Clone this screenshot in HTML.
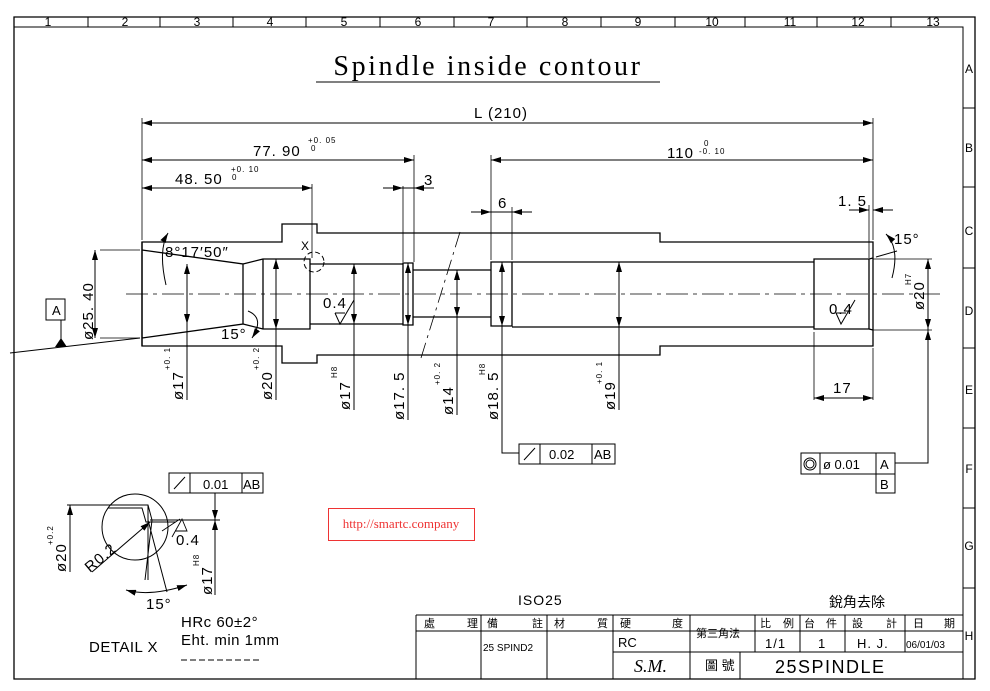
<!DOCTYPE html>
<html><head><meta charset="utf-8"><style>
html,body{margin:0;padding:0;background:#fff}
svg{display:block}
text{font-family:"Liberation Sans","Noto Sans CJK TC",sans-serif;fill:#000}
</style></head><body>
<svg width="990" height="691" viewBox="0 0 990 691" xmlns="http://www.w3.org/2000/svg">
<defs>
<marker id="a" viewBox="0 0 10 6" refX="10" refY="3" markerWidth="10" markerHeight="6" orient="auto-start-reverse" markerUnits="userSpaceOnUse"><path d="M0,0 L10,3 L0,6z" fill="#000"/></marker>
</defs>
<g fill="none" stroke="#000" stroke-width="1">
<path d="M14,17 H975 V679 H14 Z" stroke-width="1.3"/>
<path d="M14,27 H963 V679"/>
<path d="M88,17V27M160,17V27M233,17V27M306,17V27M380,17V27M454,17V27M527,17V27M601,17V27M675,17V27M745,17V27M817,17V27M891,17V27"/>
<path d="M963,108H975M963,187H975M963,268H975M963,348H975M963,428H975M963,508H975M963,588H975"/>
<path d="M316,82H660"/>
<path d="M142,242H282V224H317V233H660V242H873V346H660V355H317V363H282V346H142Z" stroke-width="1.3"/>
<path d="M142,242V346M142,250L243,264V324L142,338M243,264L263,259M243,324L263,329M263,259H310V329H263ZM263,259V329M310,264H403V324H310M403,263H413V325H403ZM413,270H491M413,317H491M491,262H512V326H491ZM512,262H814M512,327H814M814,259H869V329H814ZM869,259L873,258M869,329L873,330M869,259V329" stroke-width="1.3"/>
<path d="M126,294H940" stroke-dasharray="22,5,4,5" stroke-width="0.8"/>
<path d="M460,232L421,358" stroke-dasharray="16,5,3,5" stroke-width="0.8"/>
<path d="M142,118V240M312,184V258M403,186V262M414,155V262M491,155V260M512,207V260M869,205V258M873,118V240M814,332V400M873,348V400M873,330H932M873,259H932" stroke-width="0.8"/>
<path d="M142,123H873" marker-start="url(#a)" marker-end="url(#a)"/>
<path d="M142,160H414" marker-start="url(#a)" marker-end="url(#a)"/>
<path d="M491,160H873" marker-start="url(#a)" marker-end="url(#a)"/>
<path d="M142,188H312" marker-start="url(#a)" marker-end="url(#a)"/>
<path d="M383,188H403" marker-end="url(#a)"/><path d="M434,188H414" marker-end="url(#a)"/><path d="M403,188H414"/>
<path d="M471,212H491" marker-end="url(#a)"/><path d="M532,212H512" marker-end="url(#a)"/><path d="M491,212H532"/>
<path d="M849,210H869" marker-end="url(#a)"/><path d="M893,210H873" marker-end="url(#a)"/>
<path d="M814,398H873" marker-start="url(#a)" marker-end="url(#a)"/>
<path d="M100,250H140M100,338H140" stroke-width="0.8"/>
<path d="M95,250V338" marker-start="url(#a)" marker-end="url(#a)"/>
<path d="M187,264V324" marker-start="url(#a)" marker-end="url(#a)"/><path d="M187,324V400"/>
<path d="M276,259V329" marker-start="url(#a)" marker-end="url(#a)"/><path d="M276,329V400"/>
<path d="M354,264V324" marker-start="url(#a)" marker-end="url(#a)"/><path d="M354,324V410"/>
<path d="M408,263V325" marker-start="url(#a)" marker-end="url(#a)"/><path d="M408,325V420"/>
<path d="M457,270V317" marker-start="url(#a)" marker-end="url(#a)"/><path d="M457,317V415"/>
<path d="M502,262V326" marker-start="url(#a)" marker-end="url(#a)"/><path d="M502,326V453H519"/>
<path d="M619,262V327" marker-start="url(#a)" marker-end="url(#a)"/><path d="M619,327V410"/>
<path d="M928,259V329" marker-start="url(#a)" marker-end="url(#a)"/><path d="M928,329V463H895"/>
<path d="M928,340V330" marker-end="url(#a)"/>
<path d="M168,233Q158,250 166,285" marker-start="url(#a)"/>
<path d="M248,311Q265,318 252,338" marker-end="url(#a)"/>
<path d="M886,234Q900,248 892,278" marker-start="url(#a)"/>
<path d="M876,257L897,251"/>
<circle cx="314" cy="262" r="10" stroke-dasharray="5,3"/>
<rect x="46" y="299" width="19" height="21"/>
<path d="M61,320V342M10,353L140,338"/>
<path d="M335,313L340,324L354,300M335,313H345"/>
<path d="M836,313L841,324L855,300M836,313H846"/>
<path d="M519,444H615V464H519ZM540,444V464M592,444V464M524,460L535,448"/>
<path d="M801,453H895V474H801ZM820,453V474M876,453V493H895V474"/>
<circle cx="810" cy="464" r="6"/><circle cx="810" cy="464" r="4"/>
<circle cx="135" cy="527" r="33"/>
<path d="M67,505H148L152,520L145,580M148,505V580M148,520L167,592M108,508H142L146,522H176M150,520H220" />
<path d="M92,572L150,522" marker-end="url(#a)"/>
<path d="M70,505V572" marker-start="url(#a)"/>
<path d="M215,493V520" marker-end="url(#a)"/>
<path d="M215,540V520" marker-end="url(#a)"/><path d="M215,540V595"/>
<path d="M126,590Q150,597 187,585" marker-start="url(#a)" marker-end="url(#a)"/>
<path d="M172,537L182,519L187,531H175M162,531L180,519" stroke-width="0.9"/>
<path d="M169,473H263V493H169ZM190,473V493M242,473V493M174,489L185,477"/>
<path d="M181,660H262" stroke-dasharray="6,3"/>
<rect x="328.5" y="508.5" width="146" height="32" stroke="#e33"/>
<path d="M416,615H963M416,631H963M613,652H963M416,615V679M481,615V679M547,615V679M613,615V679M690,615V679M755,615V652M740,652V679M800,615V652M845,615V652M905,615V652M755,631H963" stroke-width="1"/>
</g>
<path d="M55,347L61,338L67,347Z" fill="#000"/>
<g font-size="12" text-anchor="middle">
<text x="48" y="26">1</text><text x="125" y="26">2</text><text x="197" y="26">3</text><text x="270" y="26">4</text><text x="344" y="26">5</text><text x="418" y="26">6</text><text x="491" y="26">7</text><text x="565" y="26">8</text><text x="638" y="26">9</text><text x="712" y="26">10</text><text x="790" y="26">11</text><text x="858" y="26">12</text><text x="933" y="26">13</text>
<text x="969" y="73">A</text><text x="969" y="152">B</text><text x="969" y="235">C</text><text x="969" y="315">D</text><text x="969" y="394">E</text><text x="969" y="473">F</text><text x="969" y="550">G</text><text x="969" y="640">H</text>
</g>
<text x="488" y="75" font-size="28" text-anchor="middle" letter-spacing="2.6" style="font-family:'Liberation Serif',serif">Spindle inside contour</text>
<g font-size="15" letter-spacing="1">
<text x="474" y="118">L (210)</text>
<text x="253" y="156">77. 90</text><text x="308" y="143" font-size="8">+0. 05</text><text x="311" y="151" font-size="8">0</text>
<text x="175" y="184">48. 50</text><text x="231" y="172" font-size="8">+0. 10</text><text x="232" y="180" font-size="8">0</text>
<text x="424" y="185">3</text>
<text x="498" y="208">6</text>
<text x="667" y="158">110</text><text x="704" y="146" font-size="8">0</text><text x="699" y="154" font-size="8">-0. 10</text>
<text x="838" y="206">1. 5</text>
<text x="894" y="244">15°</text>
<text x="165" y="257">8°17′50″</text>
<text x="221" y="339">15°</text>
<text x="323" y="308">0.4</text>
<text x="829" y="314">0.4</text>
<text x="833" y="393">17</text>
<text x="301" y="250" font-size="12">X</text>
<text x="52" y="315" font-size="13">A</text>
<text x="549" y="459" font-size="13" letter-spacing="0">0.02</text>
<text x="594" y="459" font-size="13" letter-spacing="0">AB</text>
<text x="823" y="469" font-size="13" letter-spacing="0">ø 0.01</text>
<text x="880" y="469" font-size="13" letter-spacing="0">A</text>
<text x="880" y="489" font-size="13" letter-spacing="0">B</text>
<text x="203" y="489" font-size="13" letter-spacing="0">0.01</text>
<text x="243" y="489" font-size="13" letter-spacing="0">AB</text>
<text x="176" y="545">0.4</text>
<text x="146" y="609">15°</text>
<text x="181" y="627" letter-spacing="0.5">HRc  60±2°</text>
<text x="181" y="645" letter-spacing="0.5">Eht.  min  1mm</text>
<text x="89" y="652" letter-spacing="0.5">DETAIL  X</text>
</g>
<g font-size="15" letter-spacing="1">
<text transform="translate(93,340) rotate(-90)">ø25. 40</text>
<text transform="translate(183,400) rotate(-90)">ø17</text><text transform="translate(170,370) rotate(-90)" font-size="8">+0. 1</text>
<text transform="translate(272,400) rotate(-90)">ø20</text><text transform="translate(259,370) rotate(-90)" font-size="8">+0. 2</text>
<text transform="translate(350,410) rotate(-90)">ø17</text><text transform="translate(337,378) rotate(-90)" font-size="8">H8</text>
<text transform="translate(404,420) rotate(-90)">ø17. 5</text>
<text transform="translate(453,415) rotate(-90)">ø14</text><text transform="translate(440,385) rotate(-90)" font-size="8">+0. 2</text>
<text transform="translate(498,420) rotate(-90)">ø18. 5</text><text transform="translate(485,375) rotate(-90)" font-size="8">H8</text>
<text transform="translate(615,410) rotate(-90)">ø19</text><text transform="translate(602,384) rotate(-90)" font-size="8">+0. 1</text>
<text transform="translate(924,310) rotate(-90)">ø20</text><text transform="translate(911,285) rotate(-90)" font-size="8">H7</text>
<text transform="translate(66,572) rotate(-90)">ø20</text><text transform="translate(53,545) rotate(-90)" font-size="8">+0.2</text>
<text transform="translate(212,595) rotate(-90)">ø17</text><text transform="translate(199,566) rotate(-90)" font-size="8">H8</text>
<text transform="translate(90,573) rotate(-40)">R0.2</text>
</g>
<text x="401" y="528" text-anchor="middle" font-size="13" style="font-family:'Liberation Serif',serif;fill:#e33">http://smartc.company</text>
<g font-size="11">
<text x="518" y="605" font-size="14" letter-spacing="1">ISO25</text>
<text x="829" y="607" font-size="14">銳角去除</text>
<text x="424" y="627">處</text><text x="467" y="627">理</text>
<text x="487" y="627">備</text><text x="532" y="627">註</text>
<text x="554" y="627">材</text><text x="597" y="627">質</text>
<text x="620" y="627">硬</text><text x="672" y="627">度</text>
<text x="696" y="637" font-size="11">第三角法</text>
<text x="760" y="627">比</text><text x="783" y="627">例</text>
<text x="804" y="627">台</text><text x="826" y="627">件</text>
<text x="852" y="627">設</text><text x="886" y="627">計</text>
<text x="913" y="627">日</text><text x="944" y="627">期</text>
<text x="483" y="651" font-size="10">25 SPIND2</text>
<text x="618" y="647" font-size="13">RC</text>
<text x="765" y="648" font-size="13" letter-spacing="1">1/1</text>
<text x="818" y="648" font-size="13">1</text>
<text x="857" y="648" font-size="13" letter-spacing="1">H. J.</text>
<text x="906" y="648" font-size="10">06/01/03</text>
<text x="634" y="672" font-size="18" font-style="italic" style="font-family:'Liberation Serif',serif">S.M.</text>
<text x="705" y="670" font-size="13">圖 號</text>
<text x="775" y="673" font-size="18" letter-spacing="1.5">25SPINDLE</text>
</g>
</svg>
</body></html>
